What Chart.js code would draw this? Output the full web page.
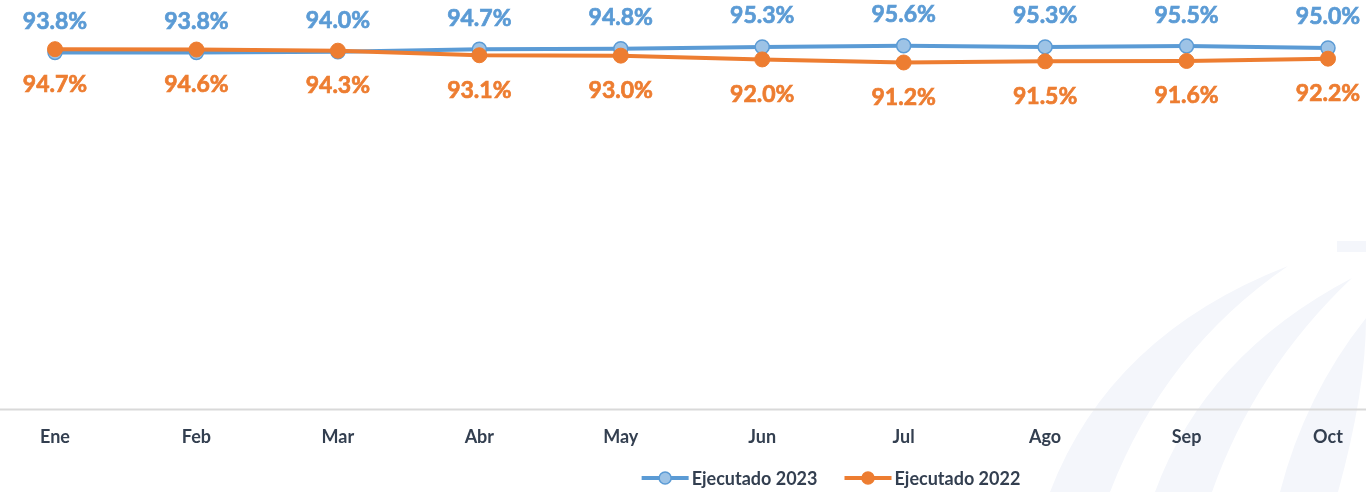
<!DOCTYPE html>
<html>
<head>
<meta charset="utf-8">
<script src="https://cdn.jsdelivr.net/npm/chart.js@4"></script>
<style>
  html, body { margin: 0; padding: 0; background: #ffffff; }
  #wrap { width: 1366px; height: 492px; position: relative; }
</style>
</head>
<body>
<div id="wrap"><canvas id="grafico"></canvas></div>
<script>
// Datos del gráfico
const meses = ['Ene', 'Feb', 'Mar', 'Abr', 'May', 'Jun', 'Jul', 'Ago', 'Sep', 'Oct'];
const ejecutado2023 = [93.8, 93.8, 94.0, 94.7, 94.8, 95.3, 95.6, 95.3, 95.5, 95.0];
const ejecutado2022 = [94.7, 94.6, 94.3, 93.1, 93.0, 92.0, 91.2, 91.5, 91.6, 92.2];
const nombresSeries = ['Ejecutado 2023', 'Ejecutado 2022'];

const AZUL = '#5b9bd5';
const AZUL_CLARO = '#9dc3e6';
const NARANJA = '#ed7d31';
const TEXTO = '#333f50';

// Marca de agua suave (arcos) y línea del eje
const fondoPlugin = {
    id: 'fondo',
    beforeDraw(chart) {
        const ctx = chart.ctx;
        ctx.save();
        ctx.fillStyle = '#f4f6fb';
        const bandas = [
            [[1050, 492], [1110, 335], [1288, 266], [1165, 350], [1110, 492]],
            [[1155, 492], [1205, 355], [1352, 278], [1255, 370], [1212, 492]],
            [[1280, 492], [1305, 395], [1366, 318], [1366, 390], [1338, 492]]
        ];
        bandas.forEach(b => {
            ctx.beginPath();
            ctx.moveTo(b[0][0], b[0][1]);
            ctx.quadraticCurveTo(b[1][0], b[1][1], b[2][0], b[2][1]);
            ctx.quadraticCurveTo(b[3][0], b[3][1], b[4][0], b[4][1]);
            ctx.closePath();
            ctx.fill();
        });
        ctx.fillRect(1337, 241, 29, 11);
        ctx.restore();
    },
    beforeDatasetsDraw(chart) {
        const ctx = chart.ctx;
        const y = chart.chartArea.bottom;
        ctx.save();
        ctx.strokeStyle = '#d9d9d9';
        ctx.lineWidth = 2;
        ctx.beginPath();
        ctx.moveTo(0, y);
        ctx.lineTo(chart.width, y);
        ctx.stroke();
        ctx.restore();
    }
};

// Etiquetas de datos: 2023 arriba, 2022 abajo
const etiquetasPlugin = {
    id: 'etiquetas',
    afterDatasetsDraw(chart) {
        const ctx = chart.ctx;
        ctx.save();
        ctx.font = 'bold 23px Lato';
        ctx.textAlign = 'center';
        ctx.textBaseline = 'middle';
        ctx.lineWidth = 0.7;
        chart.data.datasets.forEach((ds, i) => {
            const meta = chart.getDatasetMeta(i);
            const desplazamiento = i === 0 ? -31 : 35;
            ctx.fillStyle = ds.borderColor;
            ctx.strokeStyle = ds.borderColor;
            meta.data.forEach((p, j) => {
                const texto = ds.data[j].toFixed(1) + '%';
                const ancho = ctx.measureText(texto).width;
                let x = p.x;
                x = Math.max(ancho / 2 + 14, Math.min(chart.width - ancho / 2 - 5, x));
                ctx.fillText(texto, x, p.y + desplazamiento);
                ctx.strokeText(texto, x, p.y + desplazamiento);
            });
        });
        ctx.restore();
    }
};

// Leyenda dibujada a mano (línea con marcador)
const leyendaPlugin = {
    id: 'leyendaManual',
    afterDraw(chart) {
        const ctx = chart.ctx;
        const y = 478;
        const largoLinea = 47;
        const espacio = 27;
        ctx.save();
        ctx.font = 'bold 18px Lato';
        ctx.textBaseline = 'middle';
        const anchos = nombresSeries.map(n => ctx.measureText(n).width);
        const total = anchos.reduce((a, b) => a + b, 0) + (largoLinea + 3) * 2 + espacio;
        let x = 831 - total / 2;
        chart.data.datasets.forEach((ds, i) => {
            ctx.strokeStyle = ds.borderColor;
            ctx.lineWidth = 4;
            ctx.beginPath();
            ctx.moveTo(x, y);
            ctx.lineTo(x + largoLinea, y);
            ctx.stroke();
            ctx.beginPath();
            ctx.arc(x + largoLinea / 2, y, 6, 0, Math.PI * 2);
            ctx.fillStyle = ds.pointBackgroundColor;
            ctx.fill();
            ctx.lineWidth = 1.5;
            ctx.strokeStyle = ds.pointBorderColor;
            ctx.stroke();
            ctx.fillStyle = TEXTO;
            ctx.fillText(nombresSeries[i], x + largoLinea + 3, y + 1);
            x += largoLinea + 3 + anchos[i] + espacio;
        });
        ctx.restore();
    }
};

const ctx = document.getElementById('grafico').getContext('2d');
new Chart(ctx, {
    type: 'line',
    data: {
        labels: meses,
        datasets: [
            {
                label: nombresSeries[0],
                data: ejecutado2023,
                borderColor: AZUL,
                borderWidth: 4,
                pointRadius: 7,
                pointBackgroundColor: AZUL_CLARO,
                pointBorderColor: AZUL,
                pointBorderWidth: 1.5,
                tension: 0,
                order: 2
            },
            {
                label: nombresSeries[1],
                data: ejecutado2022,
                borderColor: NARANJA,
                borderWidth: 4,
                pointRadius: 7.5,
                pointBackgroundColor: NARANJA,
                pointBorderColor: NARANJA,
                pointBorderWidth: 1,
                tension: 0,
                order: 1
            }
        ]
    },
    options: {
        responsive: true,
        maintainAspectRatio: false,
        animation: false,
        layout: {
            padding: { left: 55, right: 38, top: 29, bottom: 27 }
        },
        scales: {
            x: {
                offset: false,
                grid: { display: false, drawTicks: false },
                border: { display: false },
                ticks: {
                    padding: 17,
                    color: TEXTO,
                    font: { family: 'Lato', size: 18, weight: 'bold' }
                }
            },
            y: {
                display: false,
                min: 0,
                max: 100
            }
        },
        plugins: {
            legend: { display: false },
            tooltip: { enabled: false }
        }
    },
    plugins: [fondoPlugin, etiquetasPlugin, leyendaPlugin]
});
</script>
</body>
</html>
